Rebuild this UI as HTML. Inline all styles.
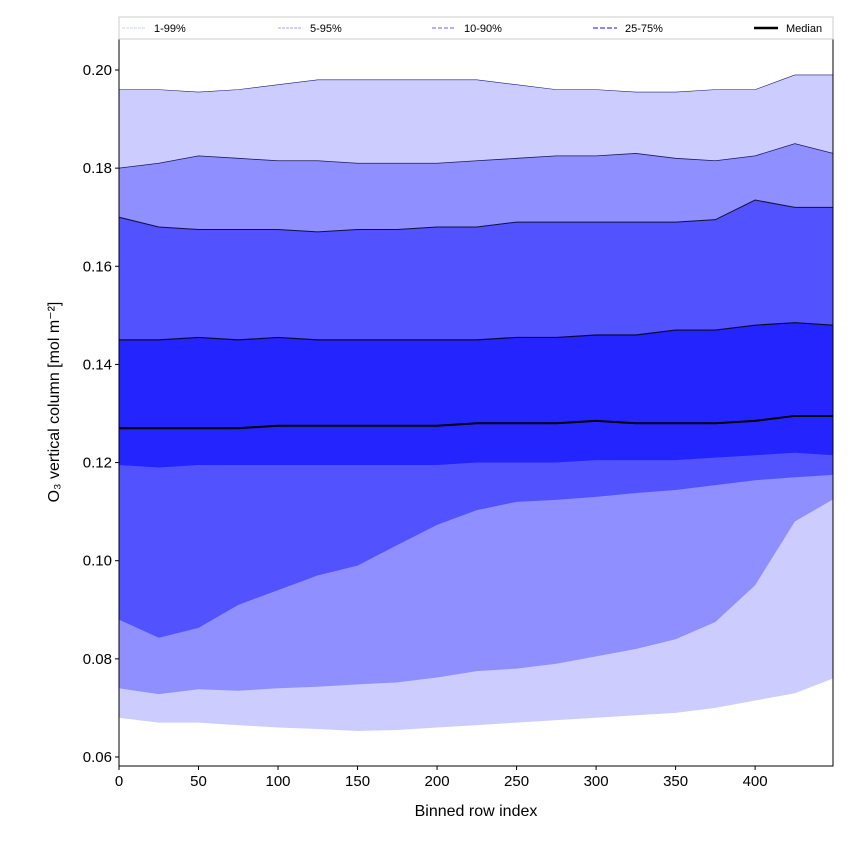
<!DOCTYPE html>
<html><head><meta charset="utf-8"><style>
body{margin:0;background:#fff;font-family:"Liberation Sans","DejaVu Sans",sans-serif}
</style></head><body>
<svg id="chart" width="850" height="850" xmlns="http://www.w3.org/2000/svg"></svg>
<script>
const xs=[0,25,50,75,100,125,150,175,200,225,250,275,300,325,350,375,400,425,449];
const p99=[.196,.196,.1955,.196,.197,.198,.198,.198,.198,.198,.197,.196,.196,.1955,.1955,.196,.196,.199,.199];
const p95=[.180,.181,.1825,.182,.1815,.1815,.181,.181,.181,.1815,.182,.1825,.1825,.183,.182,.1815,.1825,.185,.183];
const p90=[.170,.168,.1675,.1675,.1675,.167,.1675,.1675,.168,.168,.169,.169,.169,.169,.169,.1695,.1735,.172,.172];
const p75=[.145,.145,.1455,.145,.1455,.145,.145,.145,.145,.145,.1455,.1455,.146,.146,.147,.147,.148,.1485,.148];
const median=[.127,.127,.127,.127,.1275,.1275,.1275,.1275,.1275,.128,.128,.128,.1285,.128,.128,.128,.1285,.1295,.1295];
const p25=[.1195,.119,.1195,.1195,.1195,.1195,.1195,.1195,.1195,.120,.120,.120,.1205,.1205,.1205,.121,.1215,.122,.1215];
const p10=[.088,.0843,.0863,.091,.094,.097,.099,.1032,.1073,.1103,.112,.1124,.113,.1138,.1144,.1154,.1164,.117,.1175];
const p5=[.074,.0728,.0738,.0735,.074,.0743,.0748,.0752,.0762,.0775,.078,.079,.0805,.082,.084,.0875,.095,.108,.1125];
const p1=[.068,.067,.067,.0665,.066,.0657,.0653,.0655,.066,.0665,.067,.0675,.068,.0685,.069,.070,.0715,.073,.076];
const xTicks=[0,50,100,150,200,250,300,350,400];
const yTicks=[0.06,0.08,0.10,0.12,0.14,0.16,0.18,0.20];
const L=119,R=833,T=39,B=766;
const X=v=>L+v*1.5903;
const Y=v=>70+(0.20-v)*4907;
const svg=document.getElementById('chart');
const NS='http://www.w3.org/2000/svg';
function mk(t,a,p){const e=document.createElementNS(NS,t);for(const k in a)e.setAttribute(k,a[k]);(p||svg).appendChild(e);return e;}
function band(up,lo,fill,name){
  let d='M'+xs.map((x,i)=>X(x)+','+Y(up[i])).join('L');
  d+='L'+xs.slice().reverse().map((x,j)=>{const i=xs.length-1-j;return X(x)+','+Y(lo[i]);}).join('L')+'Z';
  const e=mk('path',{d:d,fill:fill});
  
  
}
function line(arr,stroke,w,name){
  const e=mk('path',{d:'M'+xs.map((x,i)=>X(x)+','+Y(arr[i])).join('L'),fill:'none',stroke:stroke,'stroke-width':w});
  
  
}
band(p99,p1,'#ccccff','band-1-99');
band(p95,p5,'#8f8fff','band-5-95');
band(p90,p10,'#5252ff','band-10-90');
band(p75,p25,'#2424ff','band-25-75');
line(p99,'#1a1a80',0.6,'line-p99');
line(p95,'#1a1a60',0.8,'line-p95');
line(p90,'#101040',1,'line-p90');
line(p75,'#0a0a30',1.2,'line-p75');
line(median,'#000',2,'median-line');
mk('rect',{x:L,y:T,width:R-L,height:B-T,fill:'none',stroke:'#000','stroke-width':1});
xTicks.forEach(v=>{
  mk('line',{x1:X(v),x2:X(v),y1:B,y2:B+4,stroke:'#000'});
  const t=mk('text',{x:X(v),y:B+20,'text-anchor':'middle','font-size':15});t.textContent=v;
  
  
});
yTicks.forEach(v=>{
  mk('line',{x1:L-4,x2:L,y1:Y(v),y2:Y(v),stroke:'#000'});
  const t=mk('text',{x:L-7,y:Y(v)+5,'text-anchor':'end','font-size':15});t.textContent=v.toFixed(2);
  
  
});
const xt=mk('text',{x:476,y:816,'text-anchor':'middle','font-size':16});xt.textContent='Binned row index';


const yt=mk('text',{x:59,y:402,'text-anchor':'middle','font-size':16,transform:'rotate(-90 59 402)'});yt.textContent='O₃ vertical column [mol m⁻²]';


// legend
const lg=mk('g',{});


mk('rect',{x:119,y:17,width:714,height:22,fill:'#fff',stroke:'#ccc'},lg);
const items=[['1-99%',122,'#ccccff',1,'3,1'],['5-95%',278,'#a0a0ff',1,'3,1'],['10-90%',432,'#8080ff',1.3,'4,2'],['25-75%',593,'#6060ff',1.6,'5,2'],['Median',754,'#000',2.5,'']];
items.forEach(it=>{
  const g=mk('g',{},lg);
  
  
  const a={x1:it[1],x2:it[1]+24,y1:28,y2:28,stroke:it[2],'stroke-width':it[3]};if(it[4])a['stroke-dasharray']=it[4];
  mk('line',a,g);
  const t=mk('text',{x:it[1]+32,y:32,'font-size':11},g);t.textContent=it[0];
});
</script>
</body></html>
